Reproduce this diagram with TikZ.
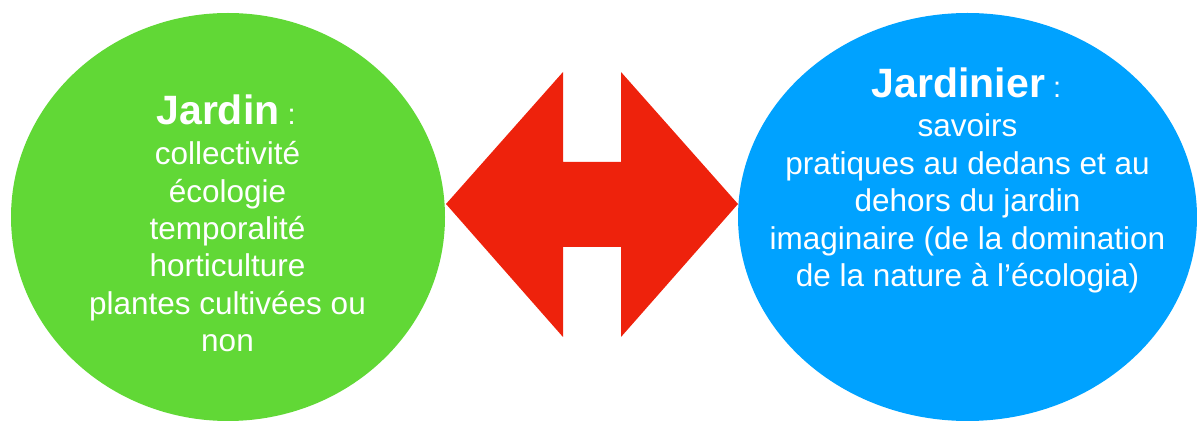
\documentclass[tikz,border=0pt]{standalone}
\usepackage{fontspec}
\setmainfont{Liberation Sans}
\definecolor{kgreen}{HTML}{61D836}
\definecolor{kblue}{HTML}{00A2FF}
\definecolor{kred}{HTML}{EE220C}
\tikzset{
  bodytxt/.style={text=white, anchor=base, inner sep=0pt, font=\fontsize{31.5}{36}\selectfont},
  titletxt/.style={text=white, anchor=base, inner sep=0pt},
}
\newcommand{\bigtitle}[1]{{\fontsize{41}{48}\selectfont\bfseries #1}{\fontsize{29}{34}\selectfont\ :}}
\begin{document}
\begin{tikzpicture}[x=1pt,y=1pt]
\useasboundingbox (0,0) rectangle (1197,423);
% ellipses
\fill[kgreen] (228,206) ellipse [x radius=217, y radius=204];
\fill[kblue] (967.5,206) ellipse [x radius=229.5, y radius=204];
% double arrow
\fill[kred] (446,219) -- (563,351) -- (563,261) -- (621,261) -- (621,351) -- (738,219)
  -- (621,86) -- (621,176) -- (563,176) -- (563,86) -- cycle;
% green text
\node[titletxt] (g0) at (226,298) {\bigtitle{Jardin}};
\node[bodytxt] (g1) at (227.5,258) {collectivité};
\node[bodytxt] (g2) at (227.5,220.7) {écologie};
\node[bodytxt] (g3) at (227.5,183.4) {temporalité};
\node[bodytxt] (g4) at (227.5,146.1) {horticulture};
\node[bodytxt] (g5) at (227.5,108.8) {plantes cultivées ou};
\node[bodytxt] (g6) at (227.5,71.5) {non};
% blue text
\node[titletxt] (b0) at (966.5,325) {\bigtitle{Jardinier}};
\node[bodytxt] (b1) at (967.5,286) {savoirs};
\node[bodytxt] (b2) at (967.5,248.5) {pratiques au dedans et au};
\node[bodytxt] (b3) at (967.5,211) {dehors du jardin};
\node[bodytxt] (b4) at (967.5,173.5) {imaginaire (de la domination};
\node[bodytxt] (b5) at (967.5,136) {de la nature à l’écologia)};
\end{tikzpicture}
\end{document}
